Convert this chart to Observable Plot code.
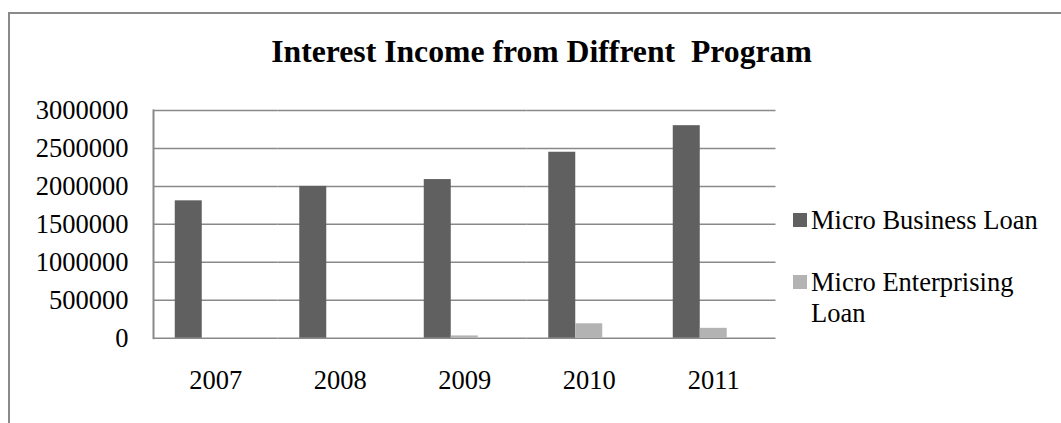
<!DOCTYPE html>
<html>
<head>
<meta charset="utf-8">
<script src="https://cdn.jsdelivr.net/npm/d3@7"></script>
<script src="https://cdn.jsdelivr.net/npm/@observablehq/plot@0.6"></script>
<style>
  html, body { margin: 0; padding: 0; background: #fff; }
  #wrap { position: relative; width: 1061px; height: 423px; overflow: hidden; font-family: "Liberation Serif", "Times New Roman", serif; color: #000; }
  #border { position: absolute; left: 8px; top: 12px; width: 1200px; height: 600px; border-top: 2px solid #8a8a8a; border-left: 2px solid #8a8a8a; }
  #title { position: absolute; left: 0; width: 1083px; top: 34px; text-align: center; font-weight: bold; font-size: 31.7px; line-height: 36px; white-space: pre; }
  #chart { position: absolute; left: 0; top: 0; }
  #legend { position: absolute; left: 793px; top: 204.5px; font-size: 26.5px; line-height: 31px; }
  .item { position: relative; padding-left: 18px; width: 230px; margin-bottom: 31px; }
  .sw { position: absolute; left: 0; top: 8.5px; width: 14px; height: 14px; }
</style>
</head>
<body>
<div id="wrap">
  <div id="border"></div>
  <div id="chart"></div>
  <div id="title"></div>
  <div id="legend"></div>
</div>
<script>
const titleText = "Interest Income from Diffrent  Program";
const years = ["2007", "2008", "2009", "2010", "2011"];
const series = ["Micro Business Loan", "Micro Enterprising Loan"];
const colors = ["#606060", "#b3b3b3"];
const microBusiness = [1810000, 2000000, 2090000, 2450000, 2800000];
const microEnterprising = [0, 0, 30000, 190000, 130000];
const yTicks = [0, 500000, 1000000, 1500000, 2000000, 2500000, 3000000];
// Excel reserves a third (empty) slot per category
const slots = [...series, "(empty slot)"];

const rows = years.flatMap((y, i) => [
  {year: y, series: series[0], value: microBusiness[i]},
  {year: y, series: series[1], value: microEnterprising[i]}
]);

const gridColor = "#898989";

const chart = Plot.plot({
  width: 1061,
  height: 423,
  marginTop: 110,
  marginBottom: 85.3,
  marginLeft: 153,
  marginRight: 285.5,
  style: {fontFamily: "Liberation Serif, Times New Roman, serif", fontSize: "26.5px", color: "#000", background: "transparent"},
  fx: {domain: years, padding: 0, label: null, round: false},
  x: {domain: slots, paddingInner: 0, paddingOuter: 0.806, axis: null, round: false},
  y: {domain: [0, 3000000], label: null},
  color: {domain: series, range: colors},
  marks: [
    Plot.gridY(yTicks, {stroke: gridColor, strokeOpacity: 1, strokeWidth: 1.5}),
    Plot.barY(rows, {fx: "year", x: "series", y: "value", fill: "series"}),
    Plot.frame({anchor: "left", facet: "super", stroke: gridColor, strokeWidth: 2}),
    Plot.axisY(yTicks, {tickSize: 0, tickPadding: 25, tickFormat: d => String(d), label: null, fontSize: 26.5, fill: "#000"}),
    Plot.axisFx({anchor: "bottom", tickSize: 0, tickPadding: 31.5, label: null, fontSize: 26.5, fill: "#000"})
  ]
});
document.getElementById("chart").appendChild(chart);
document.getElementById("title").textContent = titleText;

const legend = document.getElementById("legend");
series.forEach((s, i) => {
  const item = document.createElement("div");
  item.className = "item";
  const sw = document.createElement("span");
  sw.className = "sw";
  sw.style.background = colors[i];
  item.appendChild(sw);
  item.appendChild(document.createTextNode(s));
  legend.appendChild(item);
});
</script>
</body>
</html>
